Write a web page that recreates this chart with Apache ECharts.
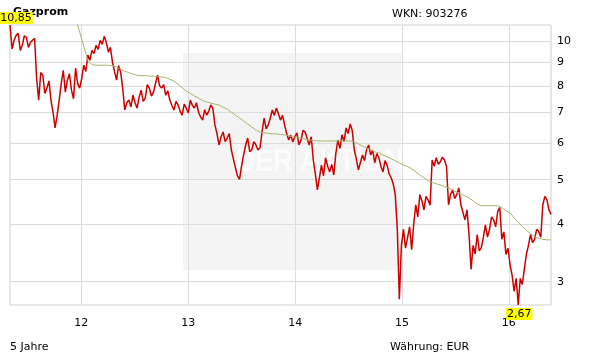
<!DOCTYPE html>
<html><head><meta charset="utf-8">
<script src="https://cdn.jsdelivr.net/npm/echarts@6/dist/echarts.min.js"></script>
<style>html,body{margin:0;padding:0;background:#fff}#c{width:611px;height:364px}</style>
</head><body><div id="c"></div>
<script>
// ---- data ----
const startDate = '2011-05-03';   // first quote
const priceStepDays = 7;           // weekly sampled quotes
const maStepDays = 14;             // moving average sampled every two weeks
const price = [
 10.85,9.62,10.05,10.30,10.41,9.55,9.80,10.28,10.20,9.70,
 9.95,10.05,10.15,8.30,7.45,8.55,8.44,7.70,7.91,8.20,
 7.45,7.00,6.48,6.90,7.45,8.10,8.65,7.75,8.23,8.50,
 7.83,7.50,8.74,8.10,7.91,8.30,8.87,8.60,9.33,9.10,
 9.56,9.40,9.80,9.60,10.05,9.85,10.25,9.95,9.47,9.70,
 9.01,8.60,8.23,8.85,8.57,7.90,7.09,7.35,7.45,7.20,
 7.64,7.35,7.16,7.55,7.83,7.40,7.52,8.05,7.91,7.60,
 7.75,8.10,8.44,8.00,7.91,8.05,7.64,7.80,7.45,7.25,
 7.09,7.40,7.27,7.05,6.91,7.30,7.16,6.98,7.45,7.25,
 7.16,7.35,7.01,6.85,6.74,7.10,6.91,7.05,7.27,7.15,
 6.58,6.30,5.95,6.20,6.35,6.05,6.16,6.30,5.81,5.55,
 5.31,5.10,5.01,5.35,5.66,5.95,6.16,5.75,5.81,6.05,
 5.95,5.80,5.86,6.35,6.81,6.45,6.58,6.80,7.09,6.90,
 7.16,6.95,6.74,6.90,6.58,6.30,6.10,6.25,6.04,6.20,
 6.32,5.95,6.10,6.40,6.35,6.15,5.95,6.20,5.52,5.15,
 4.75,5.05,5.38,5.10,5.58,5.35,5.20,5.40,5.12,5.70,
 6.10,5.85,6.26,6.05,6.48,6.30,6.61,6.40,5.81,5.55,
 5.25,5.45,5.66,5.50,5.81,5.95,5.66,5.80,5.44,5.70,
 5.58,5.35,5.20,5.50,5.38,5.15,5.05,4.90,4.64,3.90,
 2.75,3.60,3.90,3.55,3.74,3.95,3.52,4.00,4.41,4.15,
 4.64,4.50,4.30,4.60,4.52,4.40,5.52,5.35,5.58,5.40,
 5.47,5.60,5.52,5.35,4.41,4.65,4.75,4.55,4.64,4.80,
 4.41,4.25,4.09,4.30,3.80,3.19,3.60,3.45,3.80,3.50,
 3.56,3.75,3.99,3.75,3.90,4.15,4.09,3.95,4.26,4.35,
 3.71,3.85,3.44,3.55,3.27,3.10,2.86,3.05,2.67,3.05,
 2.96,3.20,3.44,3.60,3.80,3.65,3.71,3.90,3.86,3.75,
 4.41,4.60,4.52,4.30,4.20
];
const ma200 = [
 null,null,null,null,null,null,null,null,null,null,
 null,null,null,null,null,null,11.22,10.46,9.75,9.09,
 8.89,8.87,8.87,8.87,8.87,8.85,8.80,8.69,8.61,8.55,
 8.48,8.44,8.42,8.42,8.40,8.40,8.38,8.36,8.34,8.27,
 8.19,8.07,7.93,7.79,7.71,7.60,7.52,7.43,7.38,7.34,
 7.30,7.27,7.19,7.12,7.01,6.91,6.81,6.71,6.61,6.51,
 6.41,6.35,6.32,6.31,6.29,6.29,6.27,6.26,6.23,6.20,
 6.18,6.16,6.13,6.10,6.09,6.07,6.07,6.07,6.07,6.07,
 6.07,6.07,6.07,6.07,6.04,5.98,5.92,5.86,5.81,5.75,
 5.72,5.66,5.61,5.55,5.50,5.44,5.38,5.34,5.28,5.20,
 5.12,5.05,4.98,4.93,4.90,4.87,4.83,4.80,4.75,4.70,
 4.66,4.61,4.57,4.50,4.43,4.39,4.39,4.39,4.39,4.39,
 4.35,4.28,4.24,4.13,4.04,3.96,3.88,3.82,3.76,3.73,
 3.71,3.70,3.70
];
const yTicks = [3,4,5,6,7,8,9,10];
const yearStarts = ['2012-01-01','2013-01-01','2014-01-01','2015-01-01','2016-01-01'];
const yearLabels = ['12','13','14','15','16'];
const yMin = 2.67, yMax = 10.85;

// ---- build ----
const DAY = 864e5;
const t0 = Date.parse(startDate + 'T00:00:00Z');
const L = Math.log10;
const priceData = price.map((v, i) => [t0 + i * priceStepDays * DAY, L(v)]);
const maData = ma200.map((v, i) => [t0 + i * maStepDays * DAY, v == null ? null : L(v)]);
const tEnd = t0 + (price.length - 1) * priceStepDays * DAY;
const yearTs = yearStarts.map(d => Date.parse(d + 'T00:00:00Z'));
let iMax = 0, iMin = 0;
price.forEach((v, i) => { if (v > price[iMax]) iMax = i; if (v < price[iMin]) iMin = i; });
const fmt = v => Math.pow(10, v).toFixed(2).replace('.', ',');
const FONT = 'DejaVu Sans';

const chart = echarts.init(document.getElementById('c'), null, {renderer: 'canvas'});
chart.setOption({
  animation: false,
  backgroundColor: '#fff',
  textStyle: {fontFamily: FONT},
  grid: {left: 10, right: 60, top: 25, bottom: 59, show: true, borderColor: '#cfcfcf', borderWidth: 1, backgroundColor: 'transparent'},
  graphic: {elements: [
    {type: 'rect', shape: {x: 183, y: 53, width: 218, height: 217}, style: {fill: 'rgba(0,0,0,0.045)'}},
    {type: 'text', x: 292, y: 162, scaleX: 0.84, originX: 292, originY: 162,
      style: {text: 'DER AKTIONÄR', font: 'bold 32px "Liberation Sans"', fill: 'rgba(255,255,255,0.75)', align: 'center', verticalAlign: 'middle'}},
    {type: 'text', x: 13, y: 12, style: {text: 'Gazprom', font: 'bold 11px "DejaVu Sans"', fill: '#000', verticalAlign: 'middle'}},
    {type: 'text', x: 392, y: 14, style: {text: 'WKN: 903276', font: '11px "DejaVu Sans"', fill: '#000', verticalAlign: 'middle'}},
    {type: 'text', x: 10, y: 347, style: {text: '5 Jahre', font: '11px "DejaVu Sans"', fill: '#000', verticalAlign: 'middle'}},
    {type: 'text', x: 390, y: 347, style: {text: 'Währung: EUR', font: '11px "DejaVu Sans"', fill: '#000', verticalAlign: 'middle'}}
  ]},
  xAxis: {
    type: 'value', min: t0, max: tEnd,
    axisLine: {show: false},
    axisTick: {show: false, customValues: yearTs},
    axisLabel: {customValues: yearTs, margin: 13, color: '#000', fontSize: 11, fontFamily: FONT,
      formatter: v => yearLabels[yearTs.indexOf(v)] ?? ''},
    splitLine: {show: true, lineStyle: {color: '#dcdcdc', width: 1}}
  },
  yAxis: {
    type: 'value', position: 'right', min: L(yMin), max: L(yMax),
    axisLine: {show: false},
    axisTick: {show: false, customValues: yTicks.map(L)},
    axisLabel: {customValues: yTicks.map(L), margin: 6, color: '#000', fontSize: 11, fontFamily: FONT,
      formatter: v => String(Math.round(Math.pow(10, v)))},
    splitLine: {show: true, lineStyle: {color: '#dcdcdc', width: 1}}
  },
  series: [
    {type: 'line', name: 'Kurs', data: priceData, showSymbol: false, symbol: 'none',
      lineStyle: {color: '#cc0000', width: 1.5}, z: 3,
      markPoint: {symbol: 'circle', symbolSize: 0, animation: false,
        label: {show: true, position: 'inside', color: '#000', fontSize: 11, fontFamily: FONT,
          backgroundColor: '#ffff00', padding: [1, 1, 0, 1], formatter: p => fmt(p.value)},
        data: [
          {coord: priceData[iMax], value: priceData[iMax][1], label: {offset: [6, -7]}},
          {coord: priceData[iMin], value: priceData[iMin][1], label: {offset: [1, 9]}}
        ]}
    },
    {type: 'line', name: 'GD', data: maData, showSymbol: false, symbol: 'none', connectNulls: false,
      lineStyle: {color: '#a3b56a', width: 1}, z: 4}
  ]
});
</script></body></html>
